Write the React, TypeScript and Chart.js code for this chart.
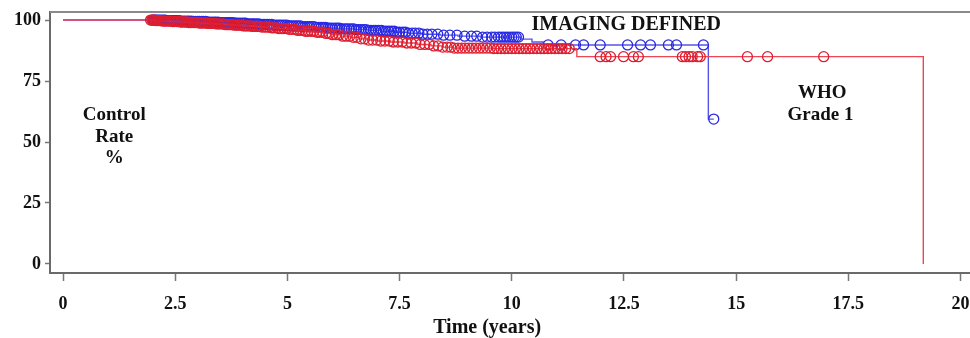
import React, { useEffect, useRef } from "react";
import { Chart, registerables } from "chart.js";

Chart.register(...registerables);

// Kaplan-Meier event steps (time in years, control rate %)
const redEventTimes = [0, 2.05, 2.2, 2.4, 2.6, 2.8, 3.0, 3.2, 3.4, 3.6, 3.8, 4.0, 4.2, 4.4, 4.6, 4.8, 5.0, 5.2, 5.4, 5.6, 5.8, 6.0, 6.2, 6.4, 6.6, 6.8, 7.0, 7.3, 7.6, 7.9, 8.2, 8.45, 8.7, 9.6, 11.45, 19.17];
const redEventValues = [100, 99.8, 99.6, 99.4, 99.2, 99.0, 98.8, 98.6, 98.4, 98.1, 97.9, 97.6, 97.4, 97.1, 96.8, 96.5, 96.2, 95.8, 95.4, 95.0, 94.5, 94.0, 93.4, 92.9, 92.3, 91.8, 91.4, 91.0, 90.6, 90.0, 89.4, 88.9, 88.5, 88.3, 85.0, 0];

const blueEventTimes = [0, 2.3, 2.6, 2.9, 3.2, 3.5, 3.8, 4.1, 4.4, 4.7, 5.0, 5.3, 5.6, 5.9, 6.2, 6.5, 6.8, 7.1, 7.4, 7.7, 8.0, 8.4, 8.8, 9.3, 10.2, 10.45, 10.7, 14.38, 14.5];
const blueEventValues = [100, 99.8, 99.6, 99.4, 99.1, 98.9, 98.7, 98.4, 98.2, 97.9, 97.6, 97.3, 97.0, 96.7, 96.4, 96.1, 95.8, 95.4, 95.0, 94.6, 94.2, 93.8, 93.4, 93.0, 92.2, 91.0, 89.8, 59.4, 59.4];

// Censored observation times
const redCensorTimes = [1.95, 1.98, 2.01, 2.04, 2.07, 2.1, 2.14, 2.18, 2.22, 2.26, 2.3, 2.35, 2.39, 2.44, 2.48, 2.53, 2.57, 2.62, 2.66, 2.71, 2.76, 2.8, 2.85, 2.9, 2.94, 2.99, 3.04, 3.08, 3.13, 3.18, 3.23, 3.27, 3.32, 3.37, 3.42, 3.47, 3.52, 3.57, 3.62, 3.67, 3.72, 3.77, 3.82, 3.87, 3.92, 3.97, 4.02, 4.07, 4.12, 4.17, 4.22, 4.28, 4.33, 4.38, 4.43, 4.49, 4.54, 4.59, 4.65, 4.7, 4.76, 4.81, 4.87, 4.92, 4.98, 5.04, 5.1, 5.16, 5.22, 5.28, 5.34, 5.4, 5.46, 5.53, 5.59, 5.66, 5.72, 5.79, 5.86, 5.93, 6.0, 6.08, 6.15, 6.23, 6.31, 6.39, 6.47, 6.55, 6.64, 6.72, 6.81, 6.9, 6.99, 7.08, 7.17, 7.27, 7.36, 7.46, 7.56, 7.66, 7.76, 7.86, 7.96, 8.06, 8.16, 8.26, 8.36, 8.46, 8.56, 8.64, 8.72, 8.8, 8.88, 8.96, 9.04, 9.12, 9.2, 9.28, 9.36, 9.44, 9.52, 9.6, 9.68, 9.76, 9.84, 9.92, 10.0, 10.08, 10.16, 10.24, 10.32, 10.4, 10.48, 10.56, 10.64, 10.72, 10.8, 10.88, 10.96, 11.04, 11.12, 11.2, 11.28, 11.97, 12.1, 12.2, 12.49, 12.71, 12.82, 13.8, 13.87, 13.95, 14.02, 14.14, 14.2, 15.25, 15.7, 16.95];
const blueCensorTimes = [2.0, 2.03, 2.06, 2.09, 2.12, 2.16, 2.2, 2.24, 2.28, 2.32, 2.36, 2.41, 2.45, 2.5, 2.54, 2.59, 2.63, 2.68, 2.72, 2.77, 2.81, 2.86, 2.9, 2.95, 3.0, 3.04, 3.09, 3.13, 3.18, 3.23, 3.27, 3.32, 3.37, 3.41, 3.46, 3.51, 3.55, 3.6, 3.65, 3.7, 3.74, 3.79, 3.84, 3.88, 3.93, 3.98, 4.03, 4.07, 4.12, 4.17, 4.22, 4.26, 4.31, 4.36, 4.41, 4.46, 4.5, 4.55, 4.6, 4.65, 4.7, 4.75, 4.8, 4.84, 4.89, 4.94, 4.99, 5.04, 5.09, 5.14, 5.19, 5.24, 5.29, 5.34, 5.39, 5.44, 5.49, 5.54, 5.59, 5.64, 5.7, 5.75, 5.8, 5.85, 5.9, 5.95, 6.0, 6.06, 6.11, 6.16, 6.21, 6.27, 6.32, 6.37, 6.43, 6.48, 6.53, 6.59, 6.64, 6.7, 6.75, 6.81, 6.86, 6.92, 6.97, 7.03, 7.09, 7.14, 7.2, 7.26, 7.32, 7.38, 7.44, 7.5, 7.57, 7.63, 7.7, 7.78, 7.85, 7.93, 8.02, 8.12, 8.22, 8.35, 8.48, 8.62, 8.78, 8.95, 9.1, 9.22, 9.35, 9.45, 9.55, 9.62, 9.7, 9.76, 9.82, 9.88, 9.94, 10.0, 10.05, 10.1, 10.15, 10.81, 11.1, 11.42, 11.6, 11.97, 12.58, 12.87, 13.09, 13.49, 13.67, 14.27, 14.5];

const xTicks = [0, 2.5, 5, 7.5, 10, 12.5, 15, 17.5, 20];
const yTicks = [0, 25, 50, 75, 100];

const RED = "rgb(222,30,48)";
const RED_LINE = "rgb(236,70,85)";
const BLUE = "rgb(40,40,228)";
const BLUE_LINE = "rgb(85,85,235)";
const FONT = "'Liberation Serif', 'Times New Roman', serif";

function survivalAt(times: number[], values: number[], t: number) {
  let v = values[0];
  for (let i = 0; i < times.length; i++) {
    if (times[i] <= t) v = values[i];
  }
  return v;
}

const annotations = [
  { text: "IMAGING DEFINED", x: 12.55, y: 97.9, size: 20 },
  { text: "WHO", x: 16.92, y: 70.1, size: 19 },
  { text: "Grade 1", x: 16.88, y: 61.1, size: 19 },
  { text: "Control", x: 1.14, y: 61.1, size: 19 },
  { text: "Rate", x: 1.14, y: 52.0, size: 19 },
  { text: "%", x: 1.14, y: 43.4, size: 19 },
];

const textPlugin = {
  id: "kmText",
  afterDraw(chart: any) {
    const { ctx, chartArea, scales } = chart;
    const xs = scales.x;
    const ys = scales.y;
    ctx.save();
    ctx.lineWidth = 2;
    // top frame line
    ctx.strokeStyle = "#8a8a8a";
    ctx.beginPath();
    ctx.moveTo(chartArea.left, chartArea.top);
    ctx.lineTo(chart.width, chartArea.top);
    ctx.stroke();
    // extend bottom axis line to the edge
    const by = Math.round(chartArea.bottom);
    ctx.strokeStyle = "#6a6a6a";
    ctx.beginPath();
    ctx.moveTo(chartArea.right - 1, by);
    ctx.lineTo(chart.width, by);
    ctx.stroke();

    ctx.fillStyle = "#111";
    ctx.textAlign = "center";
    ctx.textBaseline = "middle";
    for (const a of annotations) {
      ctx.font = `bold ${a.size}px ${FONT}`;
      ctx.fillText(a.text, xs.getPixelForValue(a.x), ys.getPixelForValue(a.y));
    }
    ctx.font = `bold 20px ${FONT}`;
    ctx.fillText("Time (years)", xs.getPixelForValue(9.45), chart.height - 10);
    ctx.restore();
  },
};

export default function App() {
  const ref = useRef<HTMLCanvasElement | null>(null);

  useEffect(() => {
    if (!ref.current) return;
    const redLine = redEventTimes.map((t, i) => ({ x: t, y: redEventValues[i] }));
    const blueLine = blueEventTimes.map((t, i) => ({ x: t, y: blueEventValues[i] }));
    const redCens = redCensorTimes.map((t) => ({ x: t, y: survivalAt(redEventTimes, redEventValues, t) }));
    const blueCens = blueCensorTimes.map((t) => ({ x: t, y: survivalAt(blueEventTimes, blueEventValues, t) }));

    const chart = new Chart(ref.current, {
      type: "scatter",
      data: {
        datasets: [
          {
            label: "Red censored",
            data: redCens,
            order: 0,
            showLine: false,
            pointStyle: "circle",
            pointRadius: 5,
            pointBorderWidth: 1.3,
            pointBorderColor: RED,
            pointBackgroundColor: "rgba(0,0,0,0)",
          },
          {
            label: "Red curve",
            data: redLine,
            order: 1,
            showLine: true,
            stepped: "before",
            borderColor: RED_LINE,
            borderWidth: 1.4,
            pointRadius: 0,
          },
          {
            label: "Blue censored",
            data: blueCens,
            order: 2,
            showLine: false,
            pointStyle: "circle",
            pointRadius: 5,
            pointBorderWidth: 1.3,
            pointBorderColor: BLUE,
            pointBackgroundColor: "rgba(0,0,0,0)",
          },
          {
            label: "Blue curve",
            data: blueLine,
            order: 3,
            showLine: true,
            stepped: "before",
            borderColor: BLUE_LINE,
            borderWidth: 1.4,
            pointRadius: 0,
          },
        ] as any,
      },
      options: {
        responsive: false,
        animation: false,
        layout: { padding: { top: 12, right: 0, left: 0, bottom: 0 } },
        plugins: { legend: { display: false }, tooltip: { enabled: false } },
        scales: {
          x: {
            type: "linear",
            min: -0.29,
            max: 20.07,
            afterBuildTicks: (s: any) => {
              s.ticks = xTicks.map((v) => ({ value: v }));
            },
            afterFit: (s: any) => {
              s.height = 65;
              s.paddingRight = 0;
              s.paddingLeft = 0;
            },
            ticks: {
              autoSkip: false,
              maxRotation: 0,
              padding: 13,
              color: "#111",
              font: { family: FONT, size: 18, weight: "bold" },
              callback: (v: any) => String(v),
            },
            grid: { display: true, drawOnChartArea: false, drawTicks: true, tickLength: 8, color: "#777", tickWidth: 1.5 },
            border: { display: true, color: "#6a6a6a", width: 2 },
          },
          y: {
            type: "linear",
            min: -3.7,
            max: 103.3,
            afterBuildTicks: (s: any) => {
              s.ticks = yTicks.map((v) => ({ value: v }));
            },
            afterFit: (s: any) => {
              s.width = 50;
              s.paddingTop = 0;
              s.paddingBottom = 0;
            },
            ticks: {
              padding: 4,
              color: "#111",
              font: { family: FONT, size: 18, weight: "bold" },
              callback: (v: any) => String(v),
            },
            grid: { display: true, drawOnChartArea: false, drawTicks: true, tickLength: 5, color: "#777", tickWidth: 1.5 },
            border: { display: true, color: "#6a6a6a", width: 2 },
          },
        },
      } as any,
      plugins: [textPlugin],
    });
    return () => chart.destroy();
  }, []);

  return (
    <div style={{ position: "fixed", left: 0, top: 0, width: 970, height: 338, background: "#fff" }}>
      <canvas ref={ref} width={970} height={338} style={{ display: "block" }} />
    </div>
  );
}
